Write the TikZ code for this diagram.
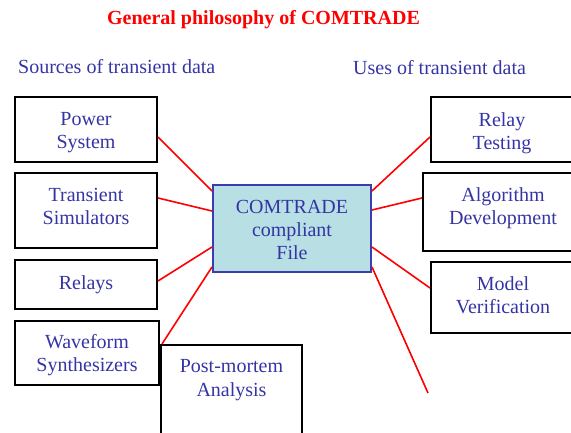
\documentclass[tikz,border=0pt]{standalone}
\usepackage{fontspec}
\setmainfont{Liberation Serif}
\definecolor{txtblue}{RGB}{52,52,165}
\definecolor{filecyan}{RGB}{184,223,227}
\definecolor{fileedge}{RGB}{60,60,175}
\begin{document}
\begin{tikzpicture}[x=1pt,y=-1pt,
    every node/.style={font=\fontsize{20}{23.3}\selectfont, text=txtblue, align=center, inner sep=0pt},
    databox/.style={draw=black, line width=2pt, minimum width=142pt},
    drop/.style={text height=#1, text depth=3pt},
    link/.style={draw=red, line width=1.6pt}]
    \useasboundingbox (0,0) rectangle (571,433);
    \clip (0,0) rectangle (571,433);

% headings
    \node[text=red, font=\bfseries\fontsize{20}{24}\selectfont, anchor=base] (title) at (263.5,25) {General philosophy of COMTRADE};
    \node[anchor=base west] (srchead) at (18,74) {Sources of transient data};
    \node[anchor=base west] (usehead) at (353,75) {Uses of transient data};

% sources
    \node[databox, drop=40.7pt, minimum height=65pt] (pwr) at (86,129.5) {Power\\System};
    \node[databox, drop=31.9pt, minimum height=75pt] (sim) at (86,210.5) {Transient\\Simulators};
    \node[databox, drop=12pt, minimum height=49pt] (rly) at (86,284.5) {Relays};
    \node[databox, drop=39.7pt, minimum width=144pt, minimum height=64pt] (wave) at (87,353) {Waveform\\Synthesizers};
    \node[databox, minimum width=141pt, anchor=north, inner ysep=14.7pt, text height=36.3pt, text depth=90pt] (pm) at (231.5,344) {Post-mortem\\Analysis};

% file
    \node[draw=fileedge, fill=filecyan, line width=2pt, drop=66pt, minimum width=158pt, minimum height=87pt] (cf) at (292,228.5) {COMTRADE\\compliant\\File};

% uses
    \node[databox, drop=43.9pt, minimum height=65pt] (test) at (502,129.5) {Relay\\Testing};
    \node[databox, drop=28.9pt, minimum width=160pt, minimum height=78pt] (algo) at (503,212) {Algorithm\\Development};
    \node[databox, drop=34.7pt, minimum width=144pt, minimum height=71pt] (model) at (503,297.5) {Model\\Verification};
    \coordinate (loose) at (428,393);

% links
    \draw[link] ([yshift=-7.5pt]pwr.east) -- ([yshift=-7pt]cf.north west);
    \draw[link] ([yshift=12.5pt]sim.east) -- ([yshift=17.5pt]cf.west);
    \draw[link] ([yshift=3.5pt]rly.east) -- ([yshift=-18.5pt]cf.west);
    \draw[link] ([xshift=2pt]pm.north west) -- ([yshift=6pt]cf.south west);
    \draw[link] ([yshift=-7.5pt]test.west) -- ([yshift=-7pt]cf.north east);
    \draw[link] ([yshift=14pt]algo.west) -- ([yshift=18.5pt]cf.east);
    \draw[link] ([yshift=9.5pt]model.west) -- ([yshift=-18.5pt]cf.east);
    \draw[link] ([yshift=6pt]cf.south east) -- (loose);

\end{tikzpicture}
\end{document}
